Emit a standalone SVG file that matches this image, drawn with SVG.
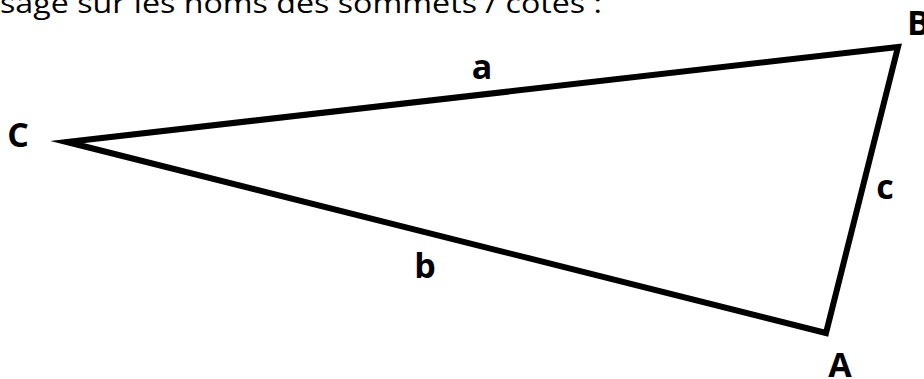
<svg xmlns="http://www.w3.org/2000/svg" width="924" height="379" viewBox="0 0 924 379">
<style>
.lbl{font-family:"Open Sans","Liberation Sans",sans-serif;font-weight:bold;font-size:34px;fill:#000;}
.top{font-family:"Open Sans","Liberation Sans",sans-serif;font-size:28px;fill:#000;}
.edge{fill:none;stroke:#000;stroke-width:6;stroke-linejoin:miter;stroke-miterlimit:10;}
</style>
<rect width="924" height="379" fill="#fff"/>
<text class="top" x="0" y="13" textLength="602" lengthAdjust="spacingAndGlyphs">sage sur les noms des sommets / côtés :</text>
<g id="connectors">
<polygon class="edge" points="67,142 898,47 826,333"/>
</g>
<g id="C"><text class="lbl" x="18" y="147" text-anchor="middle">C</text></g>
<g id="B"><text class="lbl" x="907" y="35">B</text></g>
<g id="A"><text class="lbl" x="840" y="377" text-anchor="middle">A</text></g>
<g id="a"><text class="lbl" x="482" y="79" text-anchor="middle">a</text></g>
<g id="b"><text class="lbl" x="425" y="278" text-anchor="middle">b</text></g>
<g id="c"><text class="lbl" x="885" y="199" text-anchor="middle">c</text></g>
</svg>
